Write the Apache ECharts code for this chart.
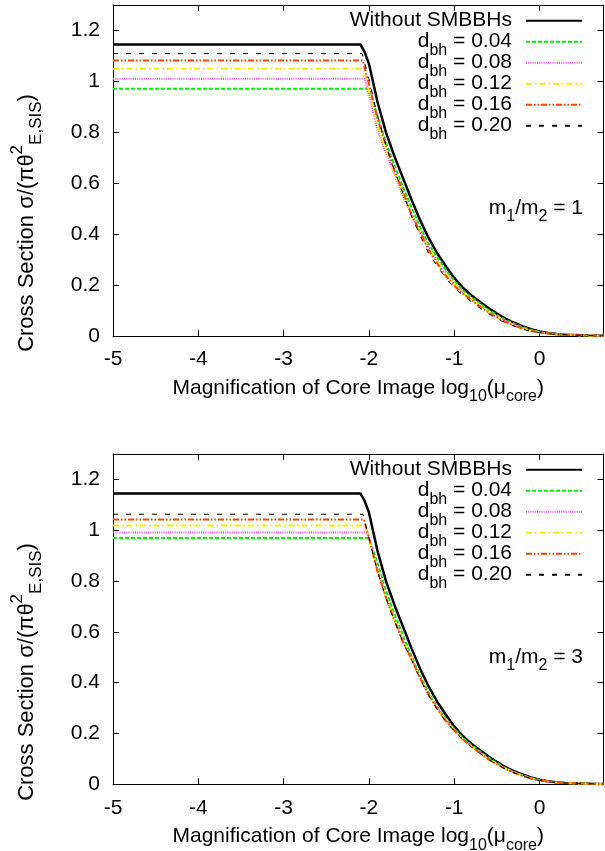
<!DOCTYPE html>
<html><head><meta charset="utf-8">
<script src="https://cdn.jsdelivr.net/npm/echarts@6/dist/echarts.min.js"></script>
<style>html,body{margin:0;padding:0;background:#fff}#c{width:605px;height:851px}</style>
</head><body><div id="c"></div>
<script>
// ---------------- data ----------------
const seriesNames = ['Without SMBBHs','d_bh = 0.04','d_bh = 0.08','d_bh = 0.12','d_bh = 0.16','d_bh = 0.20'];
const gridX = [-2.0,-1.9,-1.8,-1.7,-1.6,-1.5,-1.4,-1.3,-1.2,-1.1,-1.0,-0.9,-0.8,-0.7,-0.6,-0.5,-0.4,-0.3,-0.2,-0.1,0,0.1,0.2,0.3,0.4,0.5,0.6,0.75];
const blackKnee = [-2.05, 1.115];

// panel 1 (m1/m2 = 1)
const topLevels = [1.145, 0.971, 1.010, 1.050, 1.082, 1.109];
const topEnds   = [-2.10, -2.00, -2.05, -2.06, -2.07, -2.08];
const topBlack  = [1.07,0.92,0.80,0.705,0.62,0.535,0.455,0.385,0.325,0.275,0.228,0.19,0.16,0.135,0.11,0.088,0.068,0.052,0.039,0.027,0.018,0.012,0.008,0.005,0.004,0.003,0.002,0.001];
const topD004   = [0.971,0.865,0.76,0.67,0.585,0.505,0.428,0.362,0.31,0.262,0.217,0.18,0.152,0.128,0.103,0.082,0.063,0.048,0.035,0.024,0.016,0.011,0.007,0.005,0.004,0.003,0.002,0.001];
const topD008   = [0.95,0.81,0.72,0.635,0.55,0.478,0.41,0.352,0.297,0.253,0.209,0.172,0.146,0.12,0.097,0.076,0.059,0.044,0.031,0.021,0.014,0.01,0.007,0.005,0.004,0.003,0.002,0.001];
const topD012   = [0.965,0.832,0.73,0.642,0.56,0.478,0.408,0.347,0.293,0.247,0.205,0.172,0.146,0.12,0.097,0.076,0.059,0.044,0.031,0.021,0.014,0.01,0.007,0.005,0.004,0.003,0.002,0.001];
const topD016   = [0.99,0.855,0.748,0.65,0.567,0.478,0.408,0.338,0.285,0.237,0.198,0.167,0.142,0.116,0.093,0.073,0.055,0.042,0.029,0.02,0.014,0.01,0.007,0.005,0.004,0.003,0.002,0.001];
const topD020   = [1.01,0.865,0.748,0.65,0.56,0.47,0.395,0.325,0.275,0.228,0.19,0.16,0.135,0.11,0.088,0.068,0.052,0.039,0.027,0.018,0.013,0.009,0.006,0.005,0.004,0.003,0.002,0.001];

// panel 2 (m1/m2 = 3)
const botLevels = [1.145, 0.969, 0.991, 1.019, 1.0425, 1.063];
const botEnds   = [-2.10, -2.00, -2.02, -2.04, -2.06, -2.07];
const botBlack  = [1.07,0.92,0.80,0.705,0.62,0.535,0.455,0.385,0.325,0.275,0.228,0.19,0.16,0.135,0.11,0.088,0.068,0.052,0.039,0.027,0.018,0.012,0.008,0.005,0.004,0.003,0.002,0.001];
const botD004   = [0.969,0.872,0.762,0.671,0.586,0.503,0.427,0.361,0.305,0.256,0.219,0.183,0.155,0.13,0.105,0.084,0.064,0.049,0.036,0.025,0.017,0.011,0.007,0.005,0.004,0.003,0.002,0.001];
const botD008   = [0.975,0.845,0.74,0.65,0.565,0.495,0.42,0.355,0.3,0.252,0.215,0.179,0.151,0.126,0.101,0.08,0.062,0.047,0.034,0.023,0.016,0.011,0.007,0.005,0.004,0.003,0.002,0.001];
const botD012   = [0.972,0.842,0.738,0.648,0.563,0.494,0.42,0.354,0.3,0.251,0.214,0.178,0.15,0.125,0.1,0.08,0.062,0.047,0.034,0.023,0.016,0.011,0.007,0.005,0.004,0.003,0.002,0.001];
const botD016   = [0.97,0.84,0.735,0.645,0.56,0.492,0.418,0.352,0.298,0.25,0.212,0.177,0.149,0.124,0.099,0.079,0.061,0.046,0.033,0.023,0.015,0.011,0.007,0.005,0.004,0.003,0.002,0.001];
const botD020   = [0.97,0.838,0.733,0.643,0.558,0.49,0.415,0.35,0.295,0.247,0.21,0.175,0.147,0.122,0.098,0.078,0.06,0.045,0.033,0.022,0.015,0.01,0.007,0.005,0.004,0.003,0.002,0.001];

const panelLabels = ['1', '3'];

// ---------------- styles ----------------
const FONT = '"Liberation Sans", Arial, Helvetica, sans-serif';
const lineStyles = [
  {color:'#000000', width:2.5, type:'solid'},
  {color:'#00ee00', width:2, type:[4,2]},
  {color:'#ff44ff', width:2, type:[1,1.2]},
  {color:'#f2f200', width:2, type:[6,3,1.5,3]},
  {color:'#ff4500', width:2, type:[6,2,1.5,2,1.5,2]},
  {color:'#000000', width:1, type:[5,8]}
];
const rich = {
  m: {fontSize:21, fontFamily:FONT, color:'#000', lineHeight:34},
  s: {fontSize:16, fontFamily:FONT, color:'#000', lineHeight:16, padding:[18,0,0,0]},
  p: {fontSize:16, fontFamily:FONT, color:'#000', lineHeight:16, padding:[0,0,18,0]}
};
const richY = {
  m: {fontSize:22, fontFamily:FONT, color:'#000', lineHeight:36},
  s: {fontSize:17, fontFamily:FONT, color:'#000', lineHeight:17, padding:[19,0,0,0]},
  p: {fontSize:17, fontFamily:FONT, color:'#000', lineHeight:17, padding:[0,0,19,0]}
};

function buildSeries(level, end, ys, knee) {
  const pts = [[-5, level], [end, level]];
  if (knee) pts.push(knee);
  gridX.forEach((x, i) => { if (x >= end - 1e-9) pts.push([x, ys[i]]); });
  return pts;
}

const panels = [
  {levels: topLevels, ends: topEnds, ys: [topBlack, topD004, topD008, topD012, topD016, topD020], top: 5, height: 331},
  {levels: botLevels, ends: botEnds, ys: [botBlack, botD004, botD008, botD012, botD016, botD020], top: 454, height: 330.3}
];

const grids = [], xAxes = [], yAxes = [], series = [], legends = [], graphics = [];
const axisLineStyle = {color:'#000', width:1};
panels.forEach((p, pi) => {
  grids.push({left:113, width:490.5, top:p.top, height:p.height, outerBoundsMode:'none', containLabel:false});
  const xBase = {gridIndex:pi, type:'value', min:-5, max:0.75, interval:1,
    axisLine:{show:true, onZero:false, lineStyle:axisLineStyle},
    axisTick:{show:true, inside:true, length:6, lineStyle:axisLineStyle},
    splitLine:{show:false}};
  xAxes.push(Object.assign({}, xBase, {position:'bottom',
    axisLabel:{show:true, fontSize:21, fontFamily:FONT, color:'#000', margin:13, showMaxLabel:false},
    name:'{m|Magnification of Core Image log}{s|10}{m|(μ}{s|core}{m|)}', nameLocation:'middle', nameGap:33,
    nameTextStyle:{rich:rich}}));
  xAxes.push(Object.assign({}, xBase, {position:'top', axisLabel:{show:false}}));
  const yBase = {gridIndex:pi, type:'value', min:0, max:1.3, interval:0.2,
    axisLine:{show:true, onZero:false, lineStyle:axisLineStyle},
    axisTick:{show:true, inside:true, length:6, lineStyle:axisLineStyle},
    splitLine:{show:false}};
  yAxes.push(Object.assign({}, yBase, {position:'left',
    axisLabel:{show:true, fontSize:21, fontFamily:FONT, color:'#000', margin:13, showMaxLabel:false}}));
  yAxes.push(Object.assign({}, yBase, {position:'right', axisLabel:{show:false}}));

  seriesNames.forEach((name, si) => {
    series.push({
      type:'line', name:name, xAxisIndex:pi*2, yAxisIndex:pi*2,
      data: buildSeries(p.levels[si], p.ends[si], p.ys[si], si === 0 ? blackKnee : null),
      symbol:'none', smooth:false, animation:false, z: 2 + si,
      lineStyle: lineStyles[si], itemStyle:{color: lineStyles[si].color}
    });
  });

  legends.push({
    data: seriesNames, orient:'vertical', align:'right', right:22, top: p.top - 1.3,
    padding:0, itemWidth:56, itemHeight:10, itemGap:-13, selectedMode:false,
    itemStyle:{opacity:0},
    textStyle:{fontSize:21, fontFamily:FONT, color:'#000', lineHeight:34, padding:[0,9,0,0], rich:rich},
    formatter: function (n) {
      if (n.indexOf('d_bh') === 0) return '{m|d}{s|bh}{m|' + n.slice(4) + '}';
      return '{m|' + n + '}';
    }
  });

  graphics.push({type:'text', x:583, y:p.top + 203, style:{
    text:'{m|m}{s|1}{m|/m}{s|2}{m| = ' + panelLabels[pi] + '}', rich:rich, align:'right', verticalAlign:'middle'}});
  graphics.push({type:'text', x:27, y:p.top + 218, rotation:Math.PI/2, style:{
    text:'{m|Cross Section σ/(πθ}{p|2}{s|E,SIS}{m|)}', rich:richY, align:'center', verticalAlign:'middle'}});
});

const chart = echarts.init(document.getElementById('c'), null, {renderer:'canvas'});
chart.setOption({
  animation:false, backgroundColor:'#fff',
  grid:grids, xAxis:xAxes, yAxis:yAxes, series:series, legend:legends, graphic:graphics
});
</script></body></html>
